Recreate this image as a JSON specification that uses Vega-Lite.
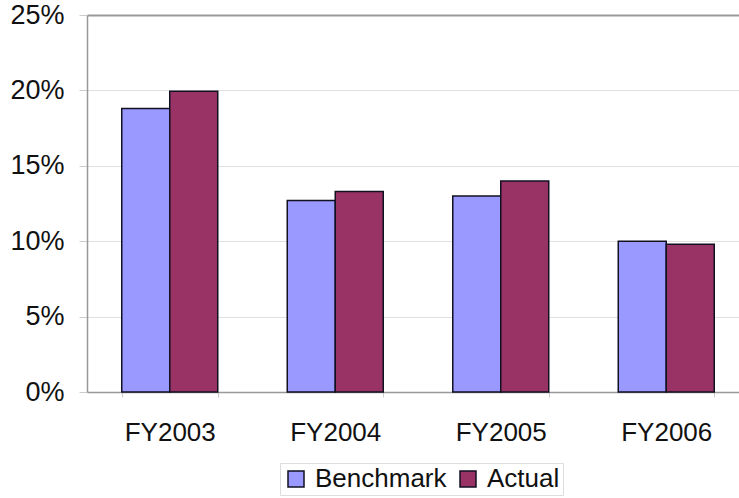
{
  "$schema": "https://vega.github.io/schema/vega-lite/v6.json",
  "autosize": {"type": "none"},
  "padding": {"left": 87, "top": 15, "right": 0, "bottom": 106},
  "width": 652,
  "height": 377,
  "background": "white",
  "data": {
    "values": [
      {"year": "FY2003", "series": "Benchmark", "value": 0.188},
      {"year": "FY2003", "series": "Actual", "value": 0.1995},
      {"year": "FY2004", "series": "Benchmark", "value": 0.127},
      {"year": "FY2004", "series": "Actual", "value": 0.133},
      {"year": "FY2005", "series": "Benchmark", "value": 0.130},
      {"year": "FY2005", "series": "Actual", "value": 0.140},
      {"year": "FY2006", "series": "Benchmark", "value": 0.100},
      {"year": "FY2006", "series": "Actual", "value": 0.098}
    ]
  },
  "mark": {"type": "bar", "stroke": "#111122", "strokeWidth": 1.5},
  "encoding": {
    "x": {
      "field": "year", "type": "nominal", "title": null,
      "scale": {"paddingInner": 0.42, "paddingOuter": 0.21, "range": [0, 662]},
      "axis": {
        "labelAngle": 0, "labelFontSize": 26, "labelFont": "Liberation Sans", "labelColor": "#111",
        "labelPadding": 22, "domainColor": "#999", "domainWidth": 1.5,
        "tickColor": "#ccc", "tickSize": 5, "tickBand": "extent", "grid": false
      }
    },
    "xOffset": {"field": "series", "type": "nominal", "sort": ["Benchmark", "Actual"]},
    "y": {
      "field": "value", "type": "quantitative", "title": null,
      "scale": {"domain": [0, 0.25], "nice": false},
      "axis": {
        "values": [0, 0.05, 0.1, 0.15, 0.2, 0.25], "format": ".0%",
        "labelFontSize": 27, "labelFont": "Liberation Sans", "labelColor": "#111",
        "labelPadding": 15, "tickSize": 8, "tickColor": "#ccc",
        "domainColor": "#999", "domainWidth": 1.5,
        "grid": true,
        "gridColor": {"condition": {"test": "datum.value === 0.25", "value": "#999"}, "value": "#e0e0e0"},
        "gridWidth": {"condition": {"test": "datum.value === 0.25", "value": 2}, "value": 1.2}
      }
    },
    "color": {
      "field": "series", "type": "nominal",
      "scale": {"domain": ["Benchmark", "Actual"], "range": ["#9999FF", "#993366"]},
      "legend": {
        "title": null, "orient": "none", "direction": "horizontal",
        "legendX": 193, "legendY": 448,
        "labelFontSize": 26, "labelFont": "Liberation Sans", "labelColor": "#111",
        "symbolType": "square", "symbolSize": 256, "symbolStrokeColor": "#111122", "symbolStrokeWidth": 1.5,
        "symbolOpacity": 1,
        "labelOffset": 6, "columnPadding": 8, "padding": 3,
        "strokeColor": "#ddd"
      }
    }
  },
  "config": {"view": {"stroke": null}}
}
